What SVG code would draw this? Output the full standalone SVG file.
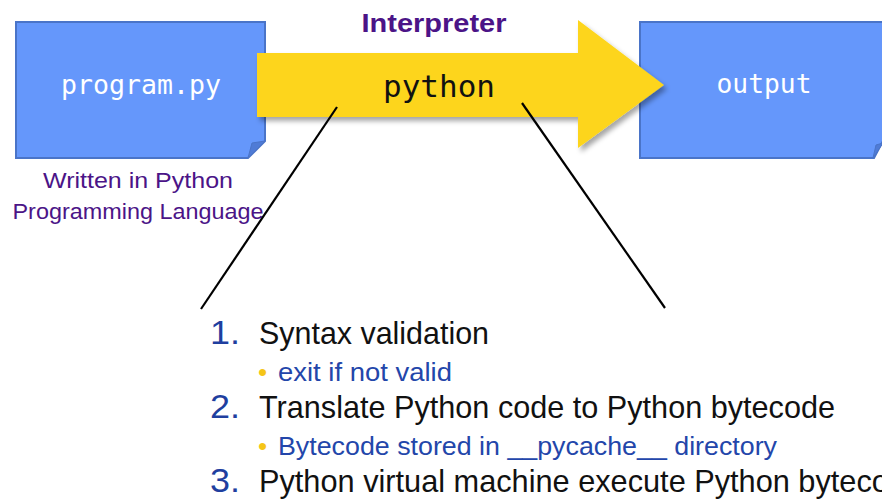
<svg xmlns="http://www.w3.org/2000/svg" width="882" height="504" viewBox="0 0 882 504">
<style>
.box{fill:#6597fb;stroke:#4a74c8;stroke-width:2}
.fold{fill:#4f7bd6;stroke:#4a74c8;stroke-width:1}
.mono{font-family:"DejaVu Sans Mono","Liberation Mono",monospace}
.sans{font-family:"Liberation Sans",Arial,sans-serif}
.purple{fill:#4b1487}
.num{fill:#1f3f9f}
.sub{fill:#2346aa}
.blk{fill:#111}
.bul{fill:#f5c518}
.conn{stroke:#000;stroke-width:2.2;fill:none}
</style>
<defs>
<filter id="sh" x="-10%" y="-10%" width="130%" height="140%">
<feDropShadow dx="3" dy="4" stdDeviation="2.5" flood-color="#000" flood-opacity="0.35"/>
</filter>
</defs>
<rect width="882" height="504" fill="#fff"/>

<g id="program">
<path class="box" d="M16,22 H265 V141 L248,158 H16 Z"/>
<path class="fold" d="M265,141 L252,143 L248,158 Z"/>
<text class="mono" x="141" y="94" font-size="26" fill="#fff" text-anchor="middle" textLength="160" lengthAdjust="spacingAndGlyphs">program.py</text>
</g>

<g id="output">
<path class="box" d="M640,22 H883 V141 L874,158 H640 Z"/>
<path class="fold" d="M883,143 L876,145 L873,158 Z"/>
<text class="mono" x="764" y="93" font-size="26" fill="#fff" text-anchor="middle" textLength="95" lengthAdjust="spacingAndGlyphs">output</text>
</g>

<g id="interpreter">
<path d="M257,53 H578 V20 L664,85 L578,148 V117 H257 Z" fill="#fdd51a" filter="url(#sh)"/>
<text class="mono" x="439" y="97" font-size="31" fill="#111" text-anchor="middle" textLength="112" lengthAdjust="spacingAndGlyphs">python</text>
<text class="sans purple" x="434" y="32" font-size="25" font-weight="bold" text-anchor="middle" textLength="145" lengthAdjust="spacingAndGlyphs">Interpreter</text>
</g>

<g id="caption">
<text class="sans purple" x="138" y="188" font-size="22" text-anchor="middle" textLength="190" lengthAdjust="spacingAndGlyphs">Written in Python</text>
<text class="sans purple" x="138" y="219" font-size="22" text-anchor="middle" textLength="251" lengthAdjust="spacingAndGlyphs">Programming Language</text>
</g>

<g id="connectors">
<line class="conn" x1="337" y1="107" x2="201" y2="309"/>
<line class="conn" x1="522" y1="103" x2="665" y2="308"/>
</g>

<g id="steps">
<text class="sans num" x="210" y="344" font-size="33" textLength="30" lengthAdjust="spacingAndGlyphs">1.</text>
<text class="sans blk" x="259" y="344" font-size="32" textLength="230" lengthAdjust="spacingAndGlyphs">Syntax validation</text>
<text class="sans bul" x="258" y="381" font-size="26">•</text>
<text class="sans sub" x="278" y="381" font-size="26" textLength="174" lengthAdjust="spacingAndGlyphs">exit if not valid</text>
<text class="sans num" x="210" y="418" font-size="33" textLength="30" lengthAdjust="spacingAndGlyphs">2.</text>
<text class="sans blk" x="259" y="418" font-size="32" textLength="576" lengthAdjust="spacingAndGlyphs">Translate Python code to Python bytecode</text>
<text class="sans bul" x="258" y="455" font-size="26">•</text>
<text class="sans sub" x="278" y="455" font-size="26" textLength="499" lengthAdjust="spacingAndGlyphs">Bytecode stored in __pycache__ directory</text>
<text class="sans num" x="210" y="492" font-size="33" textLength="30" lengthAdjust="spacingAndGlyphs">3.</text>
<text class="sans blk" x="259" y="492" font-size="32" textLength="664" lengthAdjust="spacingAndGlyphs">Python virtual machine execute Python bytecode</text>
</g>
</svg>
